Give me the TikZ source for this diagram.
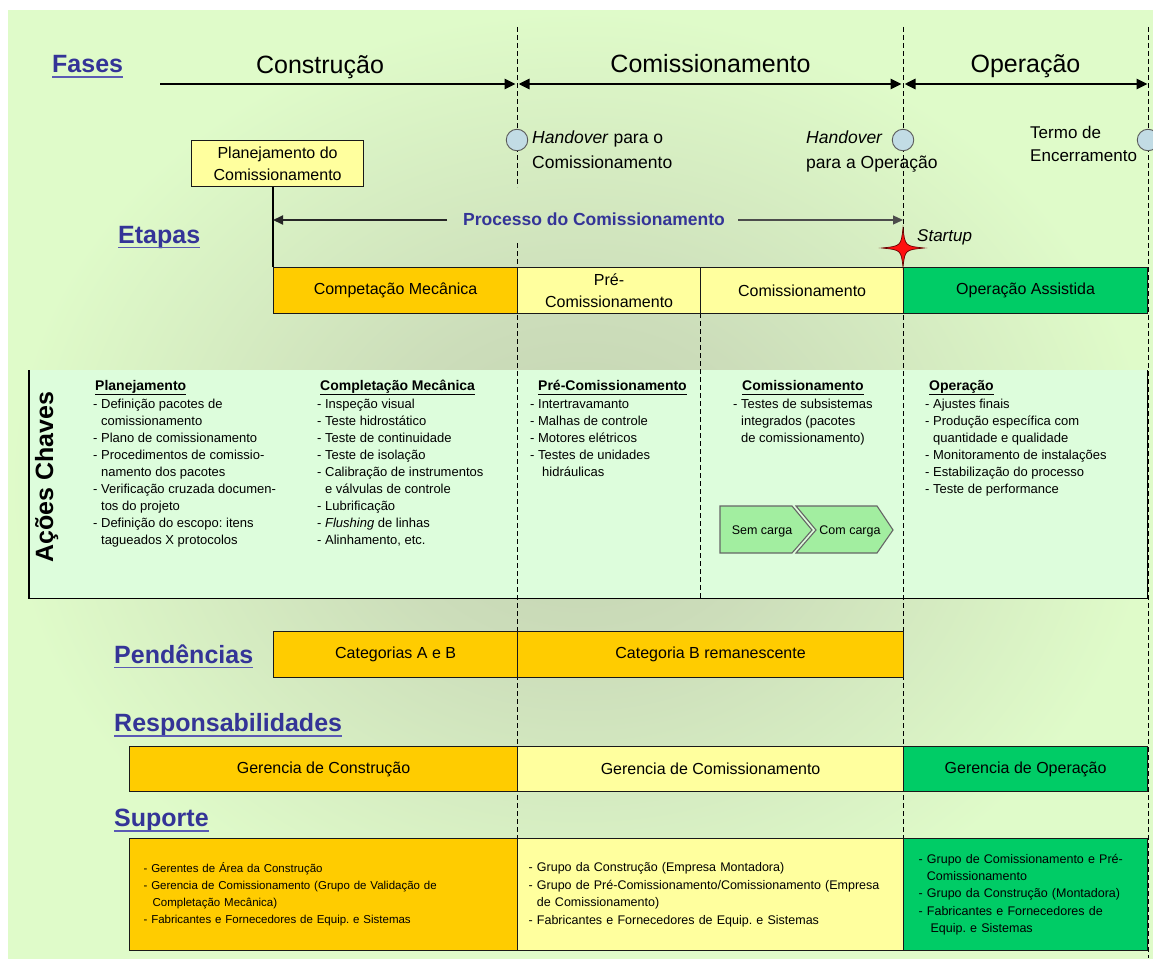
\documentclass[tikz,border=0pt]{standalone}
\usepackage{fontspec}
\setmainfont{Liberation Sans}
\usetikzlibrary{arrows.meta,calc}
\frenchspacing

\definecolor{bglight}{HTML}{DFFBC9}
\definecolor{bgmid}{HTML}{CCDDBA}
\definecolor{bgdark}{HTML}{C3D3B1}
\definecolor{gold}{HTML}{FFCC00}
\definecolor{paleyellow}{HTML}{FFFF9E}
\definecolor{opgreen}{HTML}{00CC66}
\definecolor{mint}{HTML}{DDFDDC}
\definecolor{lblblue}{HTML}{343497}
\definecolor{ulblue}{HTML}{5A5AB4}
\definecolor{milestonefill}{HTML}{C2DCE5}
\definecolor{chevgreen}{HTML}{A2EEA0}
\definecolor{starred}{HTML}{FF1010}

% soft glow behind the whole chart
\pgfdeclareradialshading{bgglow}{\pgfpoint{0bp}{0bp}}{%
  color(0bp)=(bgdark); color(9bp)=(bgmid); color(25bp)=(bglight); color(50bp)=(bglight)}

\newcommand\fsz[2]{\fontsize{#1}{#2}\selectfont}
\newcommand\ind{\phantom{- }}

\begin{document}
\begin{tikzpicture}[x=1pt, y=-1pt,
  sectionlbl/.style={font=\fsz{25}{30}\bfseries, text=lblblue, inner sep=0, anchor=base west},
  underl/.style={draw=ulblue, line width=1.5},
  phase/.style={font=\fsz{25}{30}, inner sep=0, anchor=base},
  phasearrow/.style={line width=2.6, >={Triangle[length=11pt,width=10pt]}},
  guide/.style={line width=0.8, dash pattern=on 5pt off 3pt},
  bar/.style={draw=black!90, line width=1.2, inner sep=0, font=\fsz{16}{22}, align=center,
    anchor=north west, minimum height=46},
  suppbox/.style={draw=black!90, line width=1.2, anchor=north west, minimum height=112,
    inner ysep=0, align=left},
  milestone/.style={circle, draw=black!65, line width=0.9, fill=milestonefill, minimum size=21.5, inner sep=0},
  mslabel/.style={font=\fsz{17.5}{25}, inner sep=0, anchor=north west, align=left},
  colhead/.style={font=\fsz{14}{17}\bfseries, inner sep=0, anchor=base west},
  collist/.style={font=\fsz{13}{17}, inner sep=0, anchor=north west, align=left},
  chevron/.style={draw=black!60, line width=1.1, fill=chevgreen, line join=miter},
  chevtext/.style={font=\fsz{12.5}{15}, inner sep=0},
]
\useasboundingbox (0,0) rectangle (1153,958);
\clip (0,0) rectangle (1153,958);
\fill[white] (0,0) rectangle (1153,958);
\shade[shading=bgglow] (8,11) rectangle (1153,958);

% key actions panel
\node[fill=mint, minimum width=1118, minimum height=228, anchor=north west, inner sep=0] (acoes) at (29,370) {};
\draw[line width=1.3] (acoes.north west) -- (acoes.south west) -- (acoes.south east) -- (acoes.north east);

% phase boundaries
\draw[guide] (517,27) -- (517,187) (517,243) -- (517,950);
\draw[guide] (903,27) -- (903,950);
\draw[guide] (1148,27) -- (1148,958);
\draw[guide] (700,313) -- (700,598);

% section labels
\node[sectionlbl] (lblFases) at (52,72.5) {Fases};
\node[sectionlbl] (lblEtapas) at (118,243) {Etapas};
\node[sectionlbl] (lblPend) at (114,663) {Pendências};
\node[sectionlbl] (lblResp) at (114,731.5) {Responsabilidades};
\node[sectionlbl] (lblSup) at (114,826.5) {Suporte};
\foreach \n in {lblFases,lblEtapas,lblPend,lblResp,lblSup}
  \draw[underl] ([yshift=-4.5pt]\n.base west) -- ([yshift=-4.5pt]\n.base east);

% phases
\node[phase] (phCon) at (320,74) {Construção};
\node[phase] (phCom) at (710.5,73) {Comissionamento};
\node[phase] (phOp) at (1025.5,73) {Operação};
\coordinate (ph0) at (160,84);
\coordinate (ph1) at (517,84);
\coordinate (ph2) at (903,84);
\coordinate (ph3) at (1148,84);
\draw[phasearrow, ->, shorten >=1.5pt] (ph0) -- (ph1);
\draw[phasearrow, <->, shorten >=1.5pt, shorten <=1.5pt] (ph1) -- (ph2);
\draw[phasearrow, <->, shorten >=0.5pt, shorten <=1.5pt] (ph2) -- (ph3);

% milestones
\node[milestone] (ms1) at (517,140) {};
\node[milestone] (ms2) at (903,140) {};
\node[milestone] (ms3) at (1148,140) {};
\node[mslabel] (ms1txt) at (532,125.5) {\strut\textit{Handover} para o\\Comissionamento};
\node[mslabel] (ms2txt) at (806,125.5) {\strut\textit{Handover}\\para a Operação};
\node[mslabel, font=\fsz{17}{23}] (ms3txt) at (1030,122) {\strut Termo de\\Encerramento};

% stages
\node[bar, fill=paleyellow, minimum width=172] (plan) at (191,140) {Planejamento do\\Comissionamento};
\node[bar, fill=gold, minimum width=244] (cm) at (273,267) {Competação Mecânica};
\node[bar, fill=paleyellow, minimum width=183] (pre) at (517,267) {Pré-\\Comissionamento};
\node[bar, fill=paleyellow, minimum width=203] (com) at (700,267) {Comissionamento};
\node[bar, fill=opgreen, minimum width=244] (opa) at (903,267) {Operação Assistida};
\draw[line width=1.4] (plan.south -| cm.north west) -- (cm.north west);

% commissioning process span
\node[font=\fsz{17.5}{20}\bfseries, text=lblblue, inner sep=0, anchor=base] (proc) at (594,225) {Processo do Comissionamento};
\coordinate (procL) at (273,220);
\coordinate (procR) at (903,220);
\draw[line width=1.9, draw=black!85, ->, >={Triangle[length=10pt,width=9pt]}]
  ($(proc.west |- procL)+(-16,0)$) -- (procL);
\draw[line width=1.2, draw=black!70, ->, >={Triangle[length=10pt,width=9pt]}]
  ($(proc.east |- procR)+(13,0)$) -- (procR);

% startup marker
\draw[fill=starred, draw=black!60!red, line width=0.7]
  (903,228) .. controls (905,246) .. (924,248) .. controls (905,250) .. (903,267)
  .. controls (901,250) .. (882,248) .. controls (901,246) .. (903,228) -- cycle;
\node[font=\fsz{17}{20}\itshape, inner sep=0, anchor=base west] (startup) at (917,241) {Startup};

% key actions
\node[font=\fsz{25}{30}\bfseries, rotate=90, anchor=base, inner sep=0] (acoeslbl) at (53,477) {Ações Chaves};
\node[colhead] (hPlan) at (95,390) {Planejamento};
\node[colhead] (hMec) at (320,390) {Completação Mecânica};
\node[colhead] (hPre) at (538,390) {Pré-Comissionamento};
\node[colhead] (hCom) at (742,390) {Comissionamento};
\node[colhead] (hOp) at (929,390) {Operação};
\foreach \h in {hPlan,hMec,hPre,hCom,hOp}
  \draw[line width=1] ([yshift=-4pt]\h.base west) -- ([yshift=-4pt]\h.base east);

\node[collist] (lPlan) at (93,396) {\strut- Definição pacotes de\\\ind comissionamento\\- Plano de comissionamento\\- Procedimentos de comissio-\\\ind namento dos pacotes\\- Verificação cruzada documen-\\\ind tos do projeto\\- Definição do escopo: itens\\\ind tagueados X protocolos};
\node[collist] (lMec) at (317,396) {\strut- Inspeção visual\\- Teste hidrostático\\- Teste de continuidade\\- Teste de isolação\\- Calibração de instrumentos\\\ind e válvulas de controle\\- Lubrificação\\- \textit{Flushing} de linhas\\- Alinhamento, etc.};
\node[collist] (lPre) at (530,396) {\strut- Intertravamanto\\- Malhas de controle\\- Motores elétricos\\- Testes de unidades\\\hspace*{12pt}hidráulicas};
\node[collist] (lCom) at (733,396) {\strut- Testes de subsistemas\\\ind integrados (pacotes\\\ind de comissionamento)};
\node[collist] (lOp) at (925,396) {\strut- Ajustes finais\\- Produção específica com\\\ind quantidade e qualidade\\- Monitoramento de instalações\\- Estabilização do processo\\- Teste de performance};

% load test steps
\draw[chevron] (720,506) -- (792,506) -- (812,530) -- (792,553) -- (720,553) -- cycle;
\draw[chevron] (796,506) -- (877,506) -- (893,530) -- (877,553) -- (796,553) -- (816,530) -- cycle;
\node[chevtext] (semc) at (762,531) {Sem carga};
\node[chevtext] (comc) at (850,531) {Com carga};

% pending items
\node[bar, fill=gold, minimum width=244] (catab) at (273,631) {Categorias A e B};
\node[bar, fill=gold, minimum width=386] (catb) at (517,631) {Categoria B remanescente};

% responsibilities
\node[bar, fill=gold, minimum width=388, minimum height=45] (gcon) at (129,746) {Gerencia de Construção};
\node[bar, fill=paleyellow, minimum width=386, minimum height=45] (gcom) at (517,746) {Gerencia de Comissionamento};
\node[bar, fill=opgreen, minimum width=244, minimum height=45] (gop) at (903,746) {Gerencia de Operação};

% support
\node[suppbox, fill=gold, text width=360, inner xsep=14, font=\fsz{11.5}{17}] (sup1) at (129,838)
  {- Gerentes de Área da Construção\\- Gerencia de Comissionamento (Grupo de Validação de\\\hspace*{9pt}Completação Mecânica)\\- Fabricantes e Fornecedores de Equip. e Sistemas};
\node[suppbox, fill=paleyellow, text width=364, inner xsep=11, font=\fsz{12.5}{17.5}] (sup2) at (517,838)
  {- Grupo da Construção (Empresa Montadora)\\- Grupo de Pré-Comissionamento/Comissionamento (Empresa\\\ind de Comissionamento)\\- Fabricantes e Fornecedores de Equip. e Sistemas};
\node[suppbox, fill=opgreen, text width=214, inner xsep=15, font=\fsz{12.5}{17.2}] (sup3) at (903,838)
  {- Grupo de Comissionamento e Pré-\\\ind Comissionamento\\- Grupo da Construção (Montadora)\\- Fabricantes e Fornecedores de\\\hspace*{12pt}Equip. e Sistemas};
\end{tikzpicture}
\end{document}
